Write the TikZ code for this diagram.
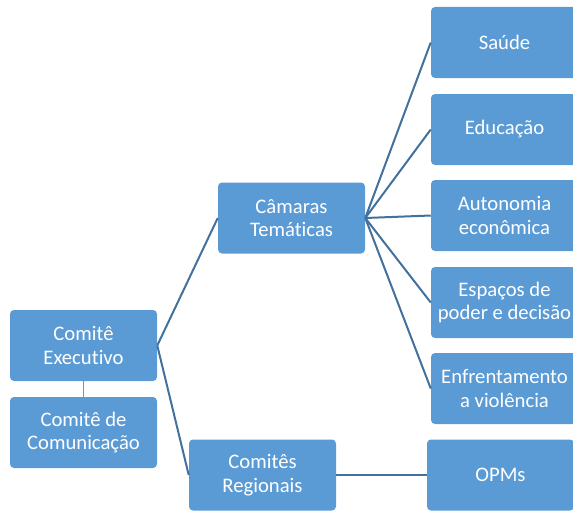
\documentclass[tikz,border=0pt]{standalone}
\usepackage{fontspec}
\setmainfont{Carlito}[Ligatures={NoCommon}]
\definecolor{boxblue}{HTML}{5B9BD5}
\definecolor{linkblue}{HTML}{41719C}
\begin{document}
\begin{tikzpicture}[x=0.75pt,y=-0.75pt,
  box/.style={rectangle, rounded corners=3pt, fill=boxblue, draw=none,
    minimum width=110.25pt, minimum height=53.25pt, inner sep=1pt,
    text=white, align=center, font=\fontsize{15.5}{17.5}\selectfont},
  link/.style={draw=linkblue, line width=1.5pt}]
\useasboundingbox (0,0) rectangle (573,510);
\clip (0,0) rectangle (573,510);
\node[box] (exec) at (83.5,345.5) {Comitê\\Executivo};
\node[box] (com) at (83.5,432.5) {Comitê de\\Comunicação};
\node[box] (cam) at (291.5,218) {Câmaras\\Temáticas};
\node[box] (reg) at (262.5,475) {Comitês\\Regionais};
\node[box] (opm) at (500.5,475) {OPMs};
\node[box] (saude) at (504.5,42.5) {Saúde};
\node[box] (educ) at (504.5,129.5) {Educação};
\node[box] (auto) at (504.5,215.5) {Autonomia\\econômica};
\node[box] (esp) at (504.5,302.5) {Espaços de\\poder e decisão};
\node[box] (enf) at (504.5,388.5) {Enfrentamento\\a violência};
\draw[draw=boxblue, line width=1pt] (exec.south) -- (com.north);
\draw[link] (exec.east) -- (cam.west);
\draw[link] (exec.east) -- (reg.west);
\foreach \t in {saude,educ,auto,esp,enf}
  \draw[link] (cam.east) -- (\t.west);
\draw[link] (reg.east) -- (opm.west);
\end{tikzpicture}
\end{document}
